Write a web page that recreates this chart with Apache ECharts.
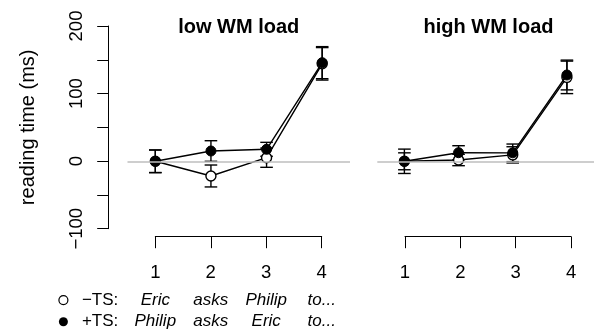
<!DOCTYPE html>
<html>
<head>
<meta charset="utf-8">
<script src="https://cdn.jsdelivr.net/npm/echarts@6/dist/echarts.min.js"></script>
<style>
html,body{margin:0;padding:0;background:#fff;}
#chart{width:594px;height:333px;}
</style>
</head>
<body>
<div id="chart"></div>
<script>
// ---- data ----
const positions = [1, 2, 3, 4];
const panelTitles = ['low WM load', 'high WM load'];
const conditionNames = ['\u2212TS:', '+TS:'];
const wordsMinusTS = ['Eric', 'asks', 'Philip', 'to...'];
const wordsPlusTS = ['Philip', 'asks', 'Eric', 'to...'];
const yTicks = [-100, 0, 100, 200];

const lowMinusMean = [0, -21.7, 5.3, 144];
const lowMinusSE = [16.7, 16.2, 14.2, 24];
const lowPlusMean = [0, 15.2, 17.7, 145.7];
const lowPlusSE = [16.7, 15.2, 10.3, 23.7];

const highMinusMean = [0, 1.9, 9.5, 124];
const highMinusSE = [12.5, 8.4, 12, 24];
const highPlusMean = [0, 12.7, 12.5, 127.5];
const highPlusSE = [18, 10.3, 13, 22];

// ---- chart ----
const FONT = 'Liberation Sans';
const chart = echarts.init(document.getElementById('chart'), null, {renderer: 'canvas'});

function pts(means) { return positions.map((x, i) => [x, means[i]]); }
function errData(means, ses) { return positions.map((x, i) => [x, means[i], ses[i]]); }

function errSeries(idx, means, ses) {
  return {
    type: 'custom', xAxisIndex: idx, yAxisIndex: idx, z: 2, silent: true,
    data: errData(means, ses),
    renderItem: function (params, api) {
      const x = api.value(0), m = api.value(1), s = api.value(2);
      const top = api.coord([x, m + s]);
      const bot = api.coord([x, m - s]);
      const hw = 6.3;
      const st = {stroke: '#000', lineWidth: 1.4};
      return {type: 'group', children: [
        {type: 'line', shape: {x1: top[0], y1: top[1], x2: bot[0], y2: bot[1]}, style: st},
        {type: 'line', shape: {x1: top[0] - hw, y1: top[1], x2: top[0] + hw, y2: top[1]}, style: st},
        {type: 'line', shape: {x1: bot[0] - hw, y1: bot[1], x2: bot[0] + hw, y2: bot[1]}, style: st}
      ]};
    }
  };
}

function lineSeries(idx, name, means, filled) {
  return {
    type: 'line', name: name, xAxisIndex: idx, yAxisIndex: idx, z: filled ? 4 : 3,
    data: pts(means), symbol: 'circle', symbolSize: 10, showSymbol: true,
    lineStyle: {color: '#000', width: 1.4},
    itemStyle: filled ? {color: '#000', borderColor: '#000', borderWidth: 1}
                      : {color: '#fff', borderColor: '#000', borderWidth: 1.4},
    emphasis: {disabled: true}
  };
}

function zeroSeries(idx) {
  return {
    type: 'line', xAxisIndex: idx, yAxisIndex: idx, z: 1, data: [],
    markLine: {silent: true, symbol: 'none', label: {show: false}, animation: false,
      lineStyle: {color: '#bebebe', width: 1.6, type: 'solid'},
      data: [{yAxis: 0}]}
  };
}

const hiddenX = {type: 'value', min: 0.5, max: 4.5, show: false};
const hiddenY = {type: 'value', min: -112, max: 212, show: false};

function xTickAxis(gridIndex, withWords) {
  return {
    type: 'value', gridIndex: gridIndex, min: 1, max: 4, interval: 1, position: 'bottom',
    axisLine: {show: true, onZero: false, lineStyle: {color: '#000', width: 1}},
    axisTick: {show: true, length: 11.5, lineStyle: {color: '#000', width: 1}},
    splitLine: {show: false},
    axisLabel: {
      margin: 20, color: '#000', fontFamily: FONT,
      formatter: function (v) {
        const i = positions.indexOf(v);
        let s = '{n|' + v + '}';
        if (withWords && i >= 0) s += '\n{w|' + wordsMinusTS[i] + '}\n{w|' + wordsPlusTS[i] + '}';
        return s;
      },
      rich: {
        n: {fontSize: 18.5, lineHeight: 32.3, fontFamily: FONT, color: '#000'},
        w: {fontSize: 17, lineHeight: 21.7, fontStyle: 'italic', fontFamily: FONT, color: '#000'}
      }
    }
  };
}

const option = {
  animation: false,
  backgroundColor: '#fff',
  title: [
    {text: panelTitles[0], left: 238.7, top: 17, padding: 0, textAlign: 'center',
     textStyle: {fontFamily: FONT, fontSize: 20, fontWeight: 'bold', color: '#000'}},
    {text: panelTitles[1], left: 488.5, top: 17, padding: 0, textAlign: 'center',
     textStyle: {fontFamily: FONT, fontSize: 20, fontWeight: 'bold', color: '#000'}}
  ],
  legend: {
    orient: 'vertical', left: 58.3, top: 289.2, padding: 0, itemGap: 0,
    itemWidth: 27, itemHeight: 9, selectedMode: false,
    textStyle: {fontFamily: FONT, fontSize: 17, color: '#000', lineHeight: 21.7},
    data: [
      {name: conditionNames[0], icon: 'circle', itemStyle: {color: '#fff', borderColor: '#000', borderWidth: 1.2}},
      {name: conditionNames[1], icon: 'circle', itemStyle: {color: '#000', borderColor: '#000', borderWidth: 0}}
    ]
  },
  grid: [
    {left: 127.5, top: 17.8, width: 222.5, height: 219.3},
    {left: 377.3, top: 17.8, width: 222.5, height: 219.3},
    {left: 155.3, top: 17.8, width: 166.4, height: 218.9},
    {left: 405, top: 17.8, width: 166.1, height: 218.9},
    {left: 108.7, top: 26, width: 10, height: 202.7}
  ],
  xAxis: [
    Object.assign({gridIndex: 0}, hiddenX),
    Object.assign({gridIndex: 1}, hiddenX),
    xTickAxis(2, true),
    xTickAxis(3, false),
    {type: 'value', gridIndex: 4, show: false, min: 0, max: 1}
  ],
  yAxis: [
    Object.assign({gridIndex: 0}, hiddenY),
    Object.assign({gridIndex: 1}, hiddenY),
    {type: 'value', gridIndex: 2, show: false, min: -112, max: 212},
    {type: 'value', gridIndex: 3, show: false, min: -112, max: 212},
    {
      type: 'value', gridIndex: 4, min: yTicks[0], max: yTicks[yTicks.length - 1], interval: 50,
      name: 'reading time (ms)', nameLocation: 'middle', nameGap: 70, nameRotate: 90,
      nameTextStyle: {fontFamily: FONT, fontSize: 20, color: '#000'},
      axisLine: {show: true, onZero: false, lineStyle: {color: '#000', width: 1}},
      axisTick: {show: true, length: 11.5, lineStyle: {color: '#000', width: 1}},
      splitLine: {show: false},
      axisLabel: {
        rotate: 90, margin: 22, fontFamily: FONT, fontSize: 18.5, color: '#000',
        formatter: function (v) {
          if (yTicks.indexOf(v) < 0) return '';
          return v < 0 ? '\u2212' + Math.abs(v) : String(v);
        }
      }
    }
  ],
  series: [
    zeroSeries(0),
    zeroSeries(1),
    errSeries(0, lowMinusMean, lowMinusSE),
    errSeries(0, lowPlusMean, lowPlusSE),
    errSeries(1, highMinusMean, highMinusSE),
    errSeries(1, highPlusMean, highPlusSE),
    lineSeries(0, conditionNames[0], lowMinusMean, false),
    lineSeries(0, conditionNames[1], lowPlusMean, true),
    lineSeries(1, conditionNames[0], highMinusMean, false),
    lineSeries(1, conditionNames[1], highPlusMean, true)
  ]
};
chart.setOption(option);
</script>
</body>
</html>
